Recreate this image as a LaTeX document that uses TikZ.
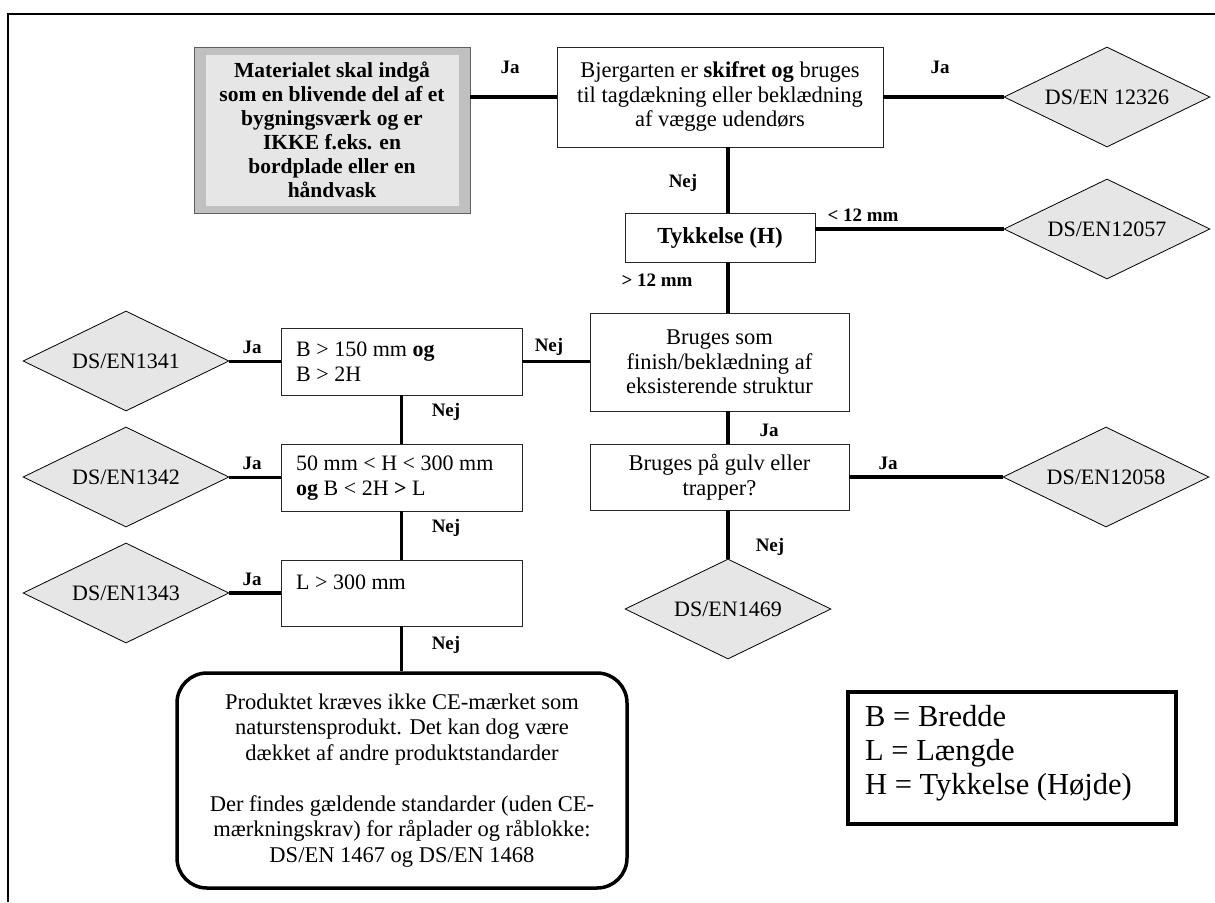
\documentclass[tikz,border=0pt]{standalone}
\usepackage{fontspec}
\setmainfont{Liberation Serif}
\usetikzlibrary{shapes.geometric}
\definecolor{diafill}{HTML}{E6E6E6}
\definecolor{bandgray}{HTML}{C0C0C0}
\definecolor{innergray}{HTML}{E6E6E6}
\definecolor{edgegray}{HTML}{5F5F5F}
\begin{document}
\begin{tikzpicture}[x=1pt,y=-1pt,
  box/.style={draw=black!85, line width=0.8pt, fill=white, inner sep=0pt, align=center,
    font=\fontsize{22.5}{24.5}\selectfont},
  dia/.style={draw=black, line width=0.8pt, fill=diafill, diamond, shape aspect=2.06,
    minimum width=206pt, minimum height=100pt, inner sep=0pt, font=\fontsize{22}{24}\selectfont},
  graybox/.style={draw=edgegray, line width=0.9pt, fill=bandgray, inner sep=0pt, align=center,
    minimum width=276pt, minimum height=166pt, font=\bfseries\fontsize{21.5}{24}\selectfont,
    path picture={\fill[innergray] ([xshift=12pt,yshift=7pt]path picture bounding box.south west)
      rectangle ([xshift=-11pt,yshift=-8pt]path picture bounding box.north east);}},
  conn/.style={line width=3.5pt},
  lbl/.style={font=\bfseries\fontsize{19}{20}\selectfont, inner sep=0pt},
  txt/.style={inner sep=0pt, align=left, font=\fontsize{22}{25}\selectfont},
]
\useasboundingbox (0,0) rectangle (1215,902);
\fill[white] (0,0) rectangle (1215,902);
% outer frame
\draw[line width=2.5pt] (8,902) -- (8,14) -- (1215,14);

% nodes
\node[graybox] (mat) at (332,130) {Materialet skal indgå\\som en blivende del af et\\bygningsværk og er\\IKKE f.eks. en\\bordplade eller en\\håndvask};
\node[box, minimum width=326pt, minimum height=100pt] (top) at (720,97)
  {Bjergarten er \textbf{skifret og} bruges\\til tagdækning eller beklædning\\af vægge udendørs};
\node[dia] (d12326) at (1107,97) {DS/EN 12326};
\node[box, minimum width=190pt, minimum height=49pt, font=\bfseries\fontsize{23}{24}\selectfont] (tyk) at (720,237.5) {Tykkelse (H)};
\node[dia] (d12057) at (1107,229) {DS/EN12057};
\node[box, minimum width=259pt, minimum height=98pt] (fin) at (719.5,362)
  {Bruges som\\finish/beklædning af\\eksisterende struktur};
\node[box, minimum width=259pt, minimum height=66pt] (gulv) at (719.5,477)
  {Bruges på gulv eller\\trapper?};
\node[dia] (d12058) at (1106,477) {DS/EN12058};
\node[dia] (d1469) at (728,609) {DS/EN1469};

\node[box, minimum width=241pt, minimum height=67pt] (bb1) at (401.5,361.5) {};
\node[txt, anchor=west] (bb1t) at (296,362) {B > 150 mm \textbf{og}\\B > 2H};
\node[box, minimum width=241pt, minimum height=67pt] (bb2) at (401.5,477.5) {};
\node[txt, anchor=west] (bb2t) at (296,478) {50 mm < H < 300 mm\\\textbf{og} B < 2H \textbf{>} L};
\node[box, minimum width=241pt, minimum height=66pt] (bb3) at (401.5,593) {};
\node[txt, anchor=west] (bb3t) at (296,582) {L > 300 mm};
\node[dia] (d1341) at (126,361) {DS/EN1341};
\node[dia] (d1342) at (126,477) {DS/EN1342};
\node[dia] (d1343) at (126,593) {DS/EN1343};

\node[draw=black, line width=3.5pt, rounded corners=30pt, fill=white, minimum width=450pt, minimum height=215pt,
  inner sep=0pt, align=center, font=\fontsize{22.5}{25.5}\selectfont] (end) at (402,780.5)
  {Produktet kræves ikke CE-mærket som\\naturstensprodukt. Det kan dog være\\dækket af andre produktstandarder\\[25.5pt]Der findes gældende standarder (uden CE-\\mærkningskrav) for råplader og råblokke:\\DS/EN 1467 og DS/EN 1468};

\node[draw=black, line width=4pt, minimum width=328pt, minimum height=132pt, inner sep=0pt] (leg) at (1012,758) {};
\node[inner sep=0pt, anchor=west, align=left, font=\fontsize{30.5}{34}\selectfont] (legt) at (865,753)
  {B = Bredde\\L = Længde\\H = Tykkelse (Højde)};

% connectors
\draw[conn] (mat.east |- top.west) -- (top.west);
\draw[conn] (top.east |- d12326.west) -- (d12326.west);
\draw[conn] (top.south -| d1469.north) -- (tyk.north -| d1469.north);
\draw[conn] (tyk.east |- d12057.west) -- (d12057.west);
\draw[conn] (tyk.south -| d1469.north) -- (fin.north -| d1469.north);
\draw[conn] (fin.west |- bb1.east) -- (bb1.east);
\draw[conn] (bb1.west) -- (d1341.east |- bb1.west);
\draw[conn] (bb1.south) -- (bb2.north);
\draw[conn] (bb2.west) -- (d1342.east |- bb2.west);
\draw[conn] (bb2.south) -- (bb3.north);
\draw[conn] (bb3.west) -- (d1343.east |- bb3.west);
\draw[conn] (bb3.south) -- (end.north -| bb3.south);
\draw[conn] (fin.south -| d1469.north) -- (gulv.north -| d1469.north);
\draw[conn] (gulv.east |- d12058.west) -- (d12058.west);
\draw[conn] (gulv.south -| d1469.north) -- (d1469.north);

% labels
\node[lbl] (l1) at (510,67) {Ja};
\node[lbl] (l2) at (940,67) {Ja};
\node[lbl] (l3) at (683,183) {Nej};
\node[lbl] (l4) at (863,215) {< 12 mm};
\node[lbl] (l5) at (657,280) {> 12 mm};
\node[lbl] (l6) at (549,347) {Nej};
\node[lbl] (l7) at (252,347) {Ja};
\node[lbl] (l8) at (446,412) {Nej};
\node[lbl] (l9) at (252,463) {Ja};
\node[lbl] (l10) at (446,528) {Nej};
\node[lbl] (l11) at (252,579) {Ja};
\node[lbl] (l12) at (446,645) {Nej};
\node[lbl] (l13) at (769,430) {Ja};
\node[lbl] (l14) at (888,463) {Ja};
\node[lbl] (l15) at (770,547) {Nej};
\end{tikzpicture}
\end{document}
